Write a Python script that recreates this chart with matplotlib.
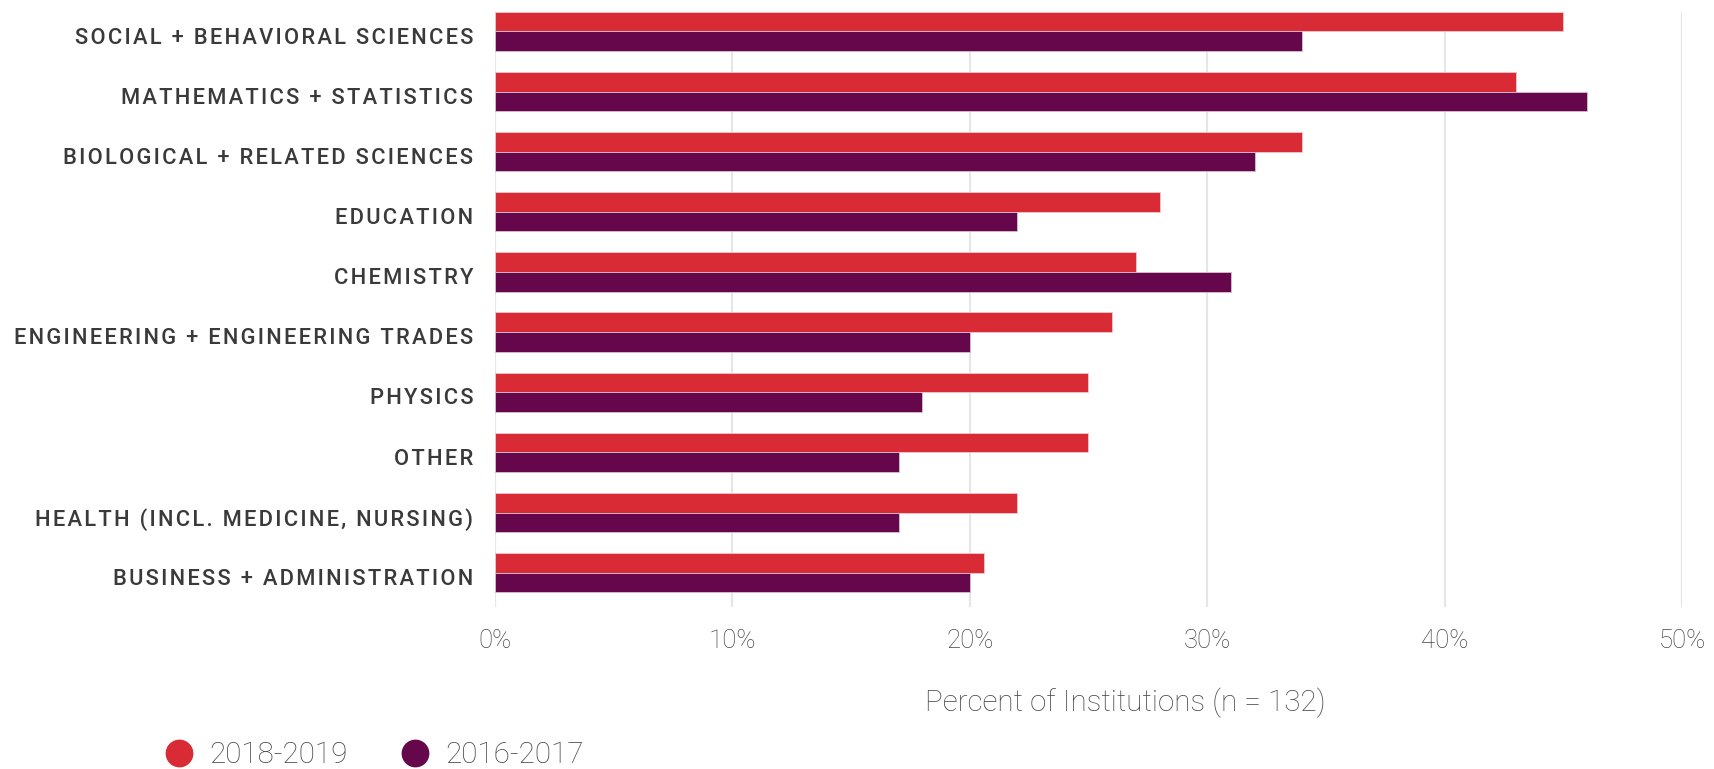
import numpy as np
import matplotlib
matplotlib.use('Agg')
import matplotlib.pyplot as plt
import matplotlib.transforms as mtransforms
from matplotlib.lines import Line2D
from matplotlib.ticker import FuncFormatter

plt.rcParams['font.family'] = ['Roboto', 'DejaVu Sans']

categories = ['SOCIAL + BEHAVIORAL SCIENCES', 'MATHEMATICS + STATISTICS',
              'BIOLOGICAL + RELATED SCIENCES', 'EDUCATION', 'CHEMISTRY',
              'ENGINEERING + ENGINEERING TRADES', 'PHYSICS', 'OTHER',
              'HEALTH (INCL. MEDICINE, NURSING)', 'BUSINESS + ADMINISTRATION']
pct_2018 = [45, 43, 34, 28, 27, 26, 25, 25, 22, 20.6]
pct_2016 = [34, 46, 32, 22, 31, 20, 18, 17, 17, 20]
series_labels = ['2018-2019', '2016-2017']

red = '#D92B36'
purple = '#66074B'

W, H = 1715, 769
fig = plt.figure(figsize=(W / 100, H / 100), dpi=100)
ax = fig.add_axes([495 / W, 1 - 606.7 / H, (1682 - 495) / W, (606.7 - 11.7) / H])

y = np.arange(len(categories))
h = 0.327
ax.barh(y - h / 2, pct_2018, height=h, color=red, edgecolor='#f0c8cc', linewidth=0.6, zorder=3)
ax.barh(y + h / 2, pct_2016, height=h, color=purple, edgecolor='#d8c0d0', linewidth=0.6, zorder=3)

ax.set_xlim(0, 50)
ax.set_ylim(len(categories) - 1 + 0.565, -h)
ax.set_xticks([0, 10, 20, 30, 40, 50])
ax.xaxis.set_major_formatter(FuncFormatter(lambda v, p: '%d%%' % v))
ax.grid(axis='x', color='#e6e6e6', linewidth=1.5, zorder=0)
for s in ax.spines.values():
    s.set_visible(False)

def spaced(s):
    return '\u200a'.join(s)

ax.set_yticks(y)
ax.set_yticklabels([spaced(c) for c in categories], fontsize=15.75, fontweight='medium', color='#3a3a3a')
ax.tick_params(axis='y', length=0, pad=15.5)
ax.tick_params(axis='x', length=0, pad=16, labelsize=18.5, labelcolor='#474747')
for t in ax.get_xticklabels():
    t.set_fontweight('light')
# labels sit a few pixels below the bar-pair centre in the original
shift = mtransforms.ScaledTranslation(0, -3 / 72, fig.dpi_scale_trans)
for t in ax.get_yticklabels():
    t.set_transform(t.get_transform() + shift)

fig.text(1125 / W, 1 - 703 / H, 'Percent of Institutions (n = 132)', ha='center', va='center',
         fontsize=21.3, fontweight='light', color='#474747')

handles = [Line2D([], [], linestyle='none', marker='o', markersize=19, color=red),
           Line2D([], [], linestyle='none', marker='o', markersize=19, color=purple)]
fig.legend(handles, series_labels, loc='center left', bbox_to_anchor=(164 / W, 1 - 755 / H),
           ncol=2, frameon=False, handlelength=1.0, handletextpad=0.52,
           columnspacing=1.78, borderpad=0, borderaxespad=0, labelcolor='#444444',
           prop={'weight': 'light', 'size': 21.3})

fig.savefig('out.png', dpi=100)
